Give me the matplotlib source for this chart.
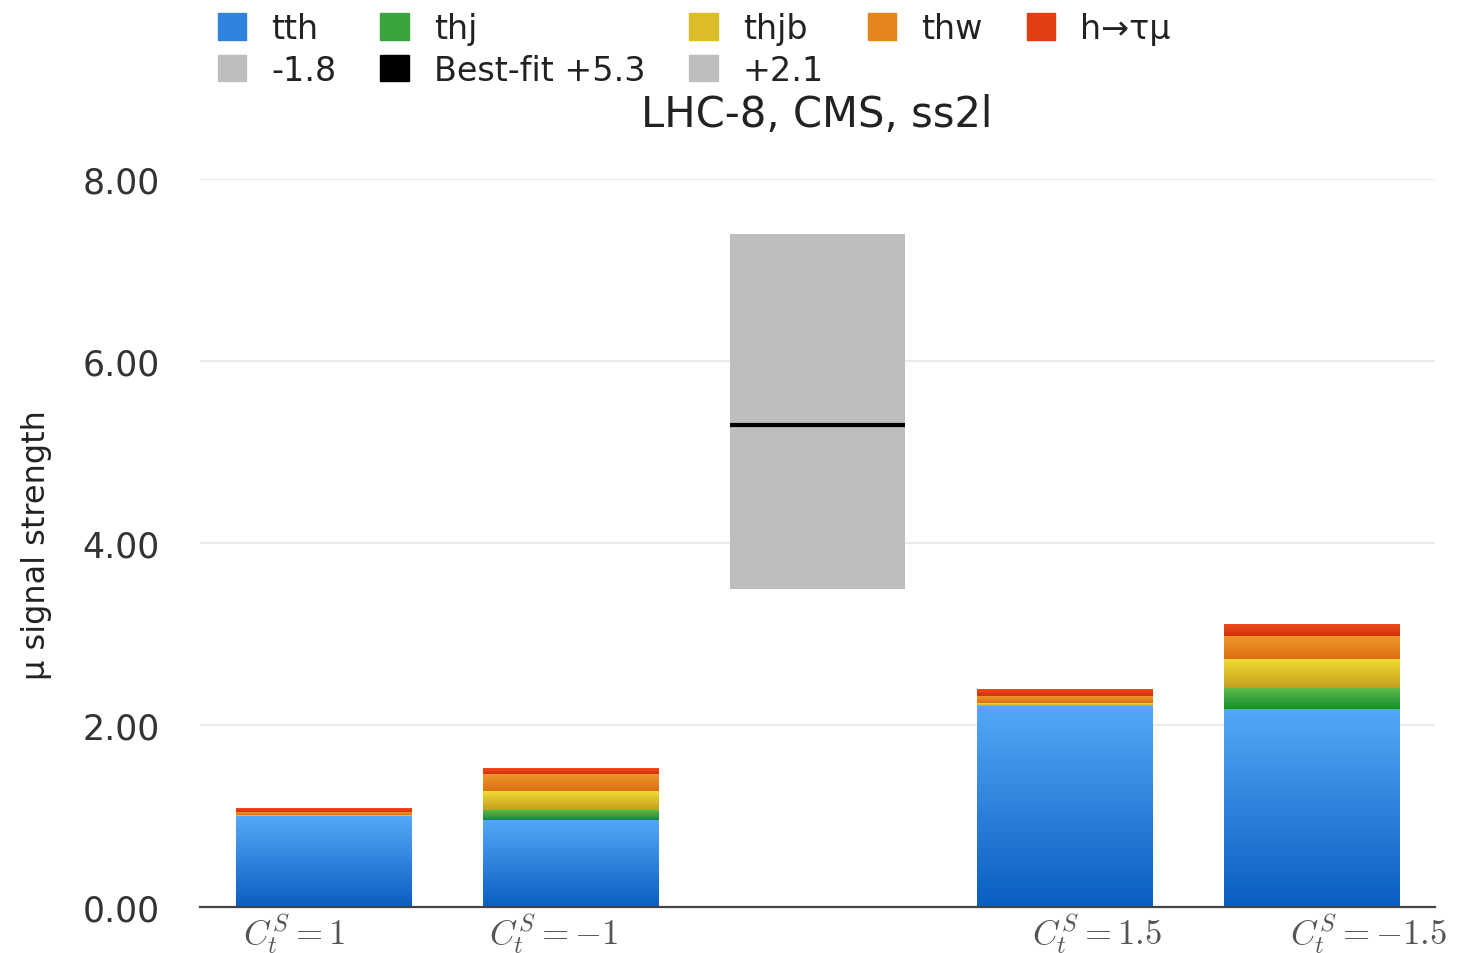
import numpy as np
import matplotlib.pyplot as plt
from matplotlib.patches import Patch
from matplotlib.colors import LinearSegmentedColormap

plt.rcParams['font.family'] = ['DejaVu Sans']
plt.rcParams['mathtext.fontset'] = 'cm'

# signal strength contributions per scenario (middle slot = fit result)
categories = [r'$C_t^S = 1$', r'$C_t^S = -1$', '', r'$C_t^S = 1.5$', r'$C_t^S = -1.5$']
tth = [1.00, 0.96, 0.0, 2.21, 2.18]
thj = [0.00, 0.11, 0.0, 0.00, 0.23]
thjb = [0.01, 0.20, 0.0, 0.03, 0.31]
thw = [0.03, 0.19, 0.0, 0.08, 0.26]
h_taumu = [0.04, 0.06, 0.0, 0.07, 0.13]

fit_index = 2
best_fit = 5.3
err_down = 1.8
err_up = 2.1

# (label, values, top colour, bottom colour)
components = [
    ('tth', tth, '#55a8f8', '#0a5ec0'),
    ('thj', thj, '#5fbd48', '#148c36'),
    ('thjb', thjb, '#f0dc32', '#c49e1e'),
    ('thw', thw, '#f0992c', '#dc6e14'),
    ('h→τμ', h_taumu, '#f04c1c', '#d42e0c'),
]
gray = '#bebebe'

bar_width = 0.71
label_shift = [-0.12, -0.07, 0.0, 0.13, 0.23]


def gradient_fill(ax, bars, top, bottom):
    cmap = LinearSegmentedColormap.from_list('grad', [bottom, top])
    ramp = np.linspace(0, 1, 256).reshape(-1, 1)
    for rect in bars:
        x0, y0 = rect.get_xy()
        w, h = rect.get_width(), rect.get_height()
        if h <= 0:
            continue
        ax.imshow(ramp, cmap=cmap, origin='lower', aspect='auto',
                  extent=[x0, x0 + w, y0, y0 + h], zorder=2,
                  interpolation='bilinear')
        rect.set_alpha(0)


def mid_colour(top, bottom):
    cmap = LinearSegmentedColormap.from_list('grad', [bottom, top])
    return cmap(0.5)


fig = plt.figure(figsize=(14.59, 9.54), dpi=100)
ax = fig.add_axes([200 / 1459, 1 - 908 / 954, 1235 / 1459, 728 / 954])

x = np.arange(len(categories))
bottom = np.zeros(len(categories))
for label, vals, c_top, c_bot in components:
    vals = np.array(vals)
    bars = ax.bar(x, vals, bar_width, bottom=bottom, color=c_bot, linewidth=0, zorder=2)
    gradient_fill(ax, bars, c_top, c_bot)
    bottom += vals

# fit result with its uncertainty band
ax.bar(fit_index, err_down, bar_width, bottom=best_fit - err_down,
       color=gray, linewidth=0, zorder=2)
ax.bar(fit_index, err_up, bar_width, bottom=best_fit,
       color=gray, linewidth=0, zorder=2)
ax.plot([fit_index - bar_width / 2, fit_index + bar_width / 2], [best_fit, best_fit],
        color='black', lw=3, solid_capstyle='butt', zorder=3)

ax.set_xlim(-0.5, 4.5)
ax.set_ylim(0, 8)

ax.set_yticks([0, 2, 4, 6, 8])
ax.set_yticklabels(['%.2f' % v for v in [0, 2, 4, 6, 8]])
ax.grid(axis='y', color='#e8e8e8', lw=1.3, zorder=0)
ax.set_axisbelow(True)

tick_idx = [i for i, c in enumerate(categories) if c]
ax.set_xticks([i + label_shift[i] for i in tick_idx])
ax.set_xticklabels([categories[i] for i in tick_idx], fontsize=25, color='#555555')
ax.tick_params(axis='x', length=0, pad=3)
ax.tick_params(axis='y', length=0, pad=29, labelsize=25, labelcolor='#333333')

for side in ['top', 'right', 'left']:
    ax.spines[side].set_visible(False)
ax.spines['bottom'].set_color('#444444')
ax.spines['bottom'].set_linewidth(1.6)

fig.text(817 / 1459, 1 - 115 / 954, 'LHC-8, CMS, ss2l', ha='center', va='center',
         fontsize=30, color='#222222')
fig.text(37 / 1459, 1 - 545 / 954, 'μ signal strength', rotation=90,
         ha='center', va='center', fontsize=23, color='#222222')

# legend, filled column by column
colours = {lab: mid_colour(ct, cb) for lab, _, ct, cb in components}
handles = [Patch(color=colours['tth']), Patch(color=gray),
           Patch(color=colours['thj']), Patch(color='black'),
           Patch(color=colours['thjb']), Patch(color=gray),
           Patch(color=colours['thw']), Patch(color=colours['h→τμ'])]
labels = ['tth', '-%.1f' % err_down, 'thj', 'Best-fit +%.1f' % best_fit,
          'thjb', '+%.1f' % err_up, 'thw', 'h→τμ']
fig.legend(handles, labels, ncol=5, loc='upper left',
           bbox_to_anchor=(218 / 1459, 1 - 13 / 954), frameon=False,
           fontsize=24, handlelength=0.85, handleheight=0.85,
           handletextpad=0.75, columnspacing=1.32, labelspacing=0.26,
           borderpad=0, borderaxespad=0, labelcolor='#222222')

fig.savefig('out.png', dpi=100)
